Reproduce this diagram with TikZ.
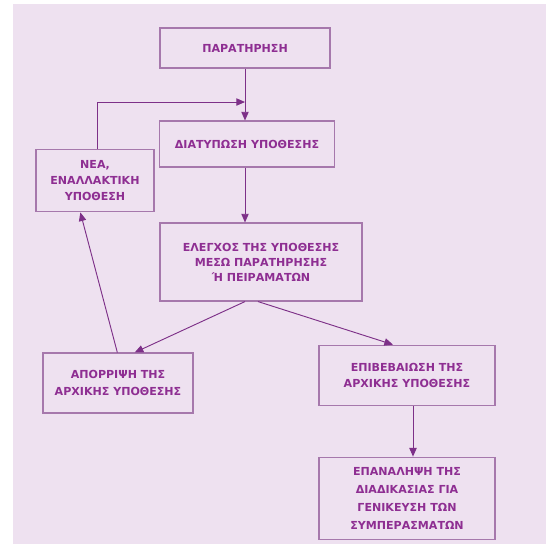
\documentclass[tikz,border=0pt]{standalone}
\usepackage{fontspec}
\setmainfont{DejaVu Sans}
\usepackage{tikz}
\usetikzlibrary{arrows.meta}
\usetikzlibrary{positioning}

\definecolor{lavender}{HTML}{EEE1F0}
\definecolor{boxline}{HTML}{A678AC}
\definecolor{arrowline}{HTML}{7D3088}
\definecolor{textpurple}{HTML}{8E2E92}

\begin{document}
\begin{tikzpicture}[x=0.75pt, y=-0.75pt,
  every node/.style={font=\bfseries\fontsize{8.3}{12.3}\selectfont, text=textpurple},
  stage/.style={draw=boxline, line width=0.8pt, rectangle, align=center, inner sep=2pt},
  flow/.style={draw=arrowline, line width=0.7pt, -{Triangle[length=6.5pt,width=5.5pt]}}]
\useasboundingbox (0,0) rectangle (548,544);
\fill[lavender] (13,4) rectangle (546,544);

\node[stage, minimum width=127.5pt, minimum height=30pt] (obs) at (245,48) {ΠΑΡΑΤΗΡΗΣΗ};
\node[stage, minimum width=131pt, minimum height=34.5pt] (hyp) at (247,144) {ΔΙΑΤΥΠΩΣΗ ΥΠΟΘΕΣΗΣ};
\node[stage, minimum width=88.5pt, minimum height=47pt] (newh) at (95,180.5) {ΝΕΑ,\\ΕΝΑΛΛΑΚΤΙΚΗ\\ΥΠΟΘΕΣΗ};
\node[stage, minimum width=151.5pt, minimum height=58.5pt, font=\bfseries\fontsize{8.3}{11.3}\selectfont] (test) at (261,262) {ΕΛΕΓΧΟΣ ΤΗΣ ΥΠΟΘΕΣΗΣ\\ΜΕΣΩ ΠΑΡΑΤΗΡΗΣΗΣ\\Ή ΠΕΙΡΑΜΑΤΩΝ};
\node[stage, minimum width=112.5pt, minimum height=45pt] (rej) at (118,383) {ΑΠΟΡΡΙΨΗ ΤΗΣ\\ΑΡΧΙΚΗΣ ΥΠΟΘΕΣΗΣ};
\node[stage, minimum width=132pt, minimum height=45.5pt] (conf) at (407,375.5) {ΕΠΙΒΕΒΑΙΩΣΗ ΤΗΣ\\ΑΡΧΙΚΗΣ ΥΠΟΘΕΣΗΣ};
\node[stage, minimum width=132pt, minimum height=62pt, font=\bfseries\fontsize{8.3}{13.5}\selectfont] (rep) at (407,498.5) {ΕΠΑΝΑΛΗΨΗ ΤΗΣ\\ΔΙΑΔΙΚΑΣΙΑΣ ΓΙΑ\\ΓΕΝΙΚΕΥΣΗ ΤΩΝ\\ΣΥΜΠΕΡΑΣΜΑΤΩΝ};

\coordinate (join) at (245,102);

\draw[flow] ([xshift=0pt]obs.south) -- (obs.south |- hyp.north);
\draw[flow] ([xshift=1.5pt]newh.north) |- (join);
\draw[flow] ([xshift=-1.5pt]hyp.south) -- ([xshift=-1.5pt]hyp.south |- test.north);
\draw[flow] ([xshift=-12pt]test.south) -- ([xshift=12.5pt]rej.north);
\draw[flow] ([xshift=-2.3pt]test.south) -- ([xshift=-10.5pt]conf.north);
\draw[flow] ([xshift=-0.5pt]rej.north) -- ([xshift=-11pt]newh.south);
\draw[flow] ([xshift=4.5pt]conf.south) -- ([xshift=4.5pt]conf.south |- rep.north);
\end{tikzpicture}
\end{document}
